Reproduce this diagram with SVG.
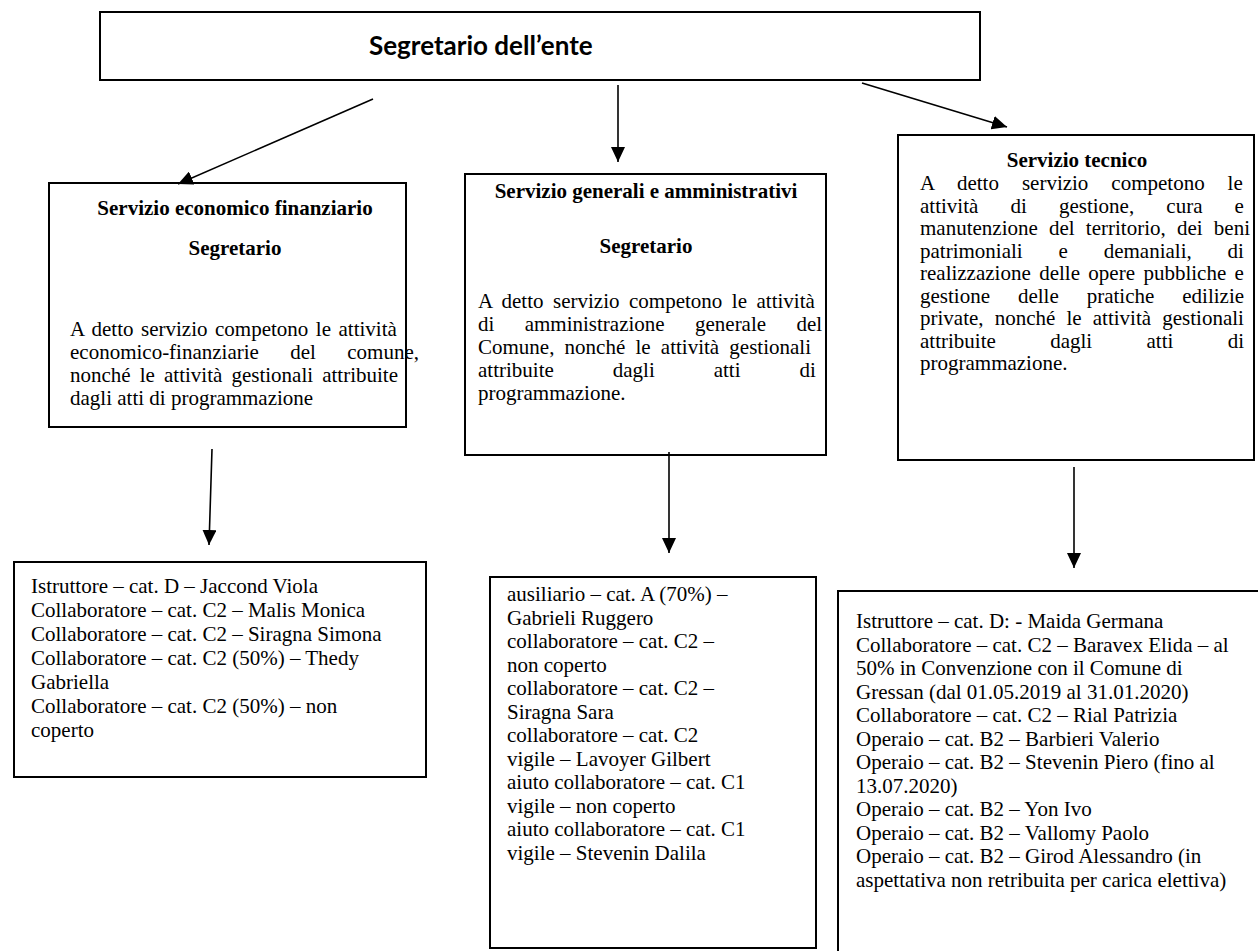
<svg xmlns="http://www.w3.org/2000/svg" width="1258" height="951" viewBox="0 0 1258 951">
<style>
.box{fill:#fff;stroke:#000;stroke-width:2}
.t{font-family:"Liberation Serif","Times New Roman",serif;font-size:21px;fill:#000}
.b{font-family:"Liberation Serif","Times New Roman",serif;font-size:21px;font-weight:bold;fill:#000;text-anchor:middle}
.title{font-family:Lato,"Liberation Sans",sans-serif;font-size:26px;font-weight:bold;fill:#000}
.c{stroke:#000;stroke-width:1.6;fill:none;marker-end:url(#ah)}
</style>
<defs>
<marker id="ah" markerUnits="userSpaceOnUse" markerWidth="16" markerHeight="14" refX="15" refY="7" orient="auto">
<path d="M0,0 L15,7 L0,14 z" fill="#000"/>
</marker>
</defs>
<rect width="1258" height="951" fill="#fff"/>

<g id="top">
<rect class="box" x="100" y="12" width="880" height="68"/>
<text class="title" x="369" y="55">Segretario dell’ente</text>
</g>

<g id="svc-econ">
<rect class="box" x="49" y="183" width="357" height="244"/>
<text class="b" x="235" y="215">Servizio economico finanziario</text>
<text class="b" x="235" y="255">Segretario</text>
<text class="t" x="70" y="336" word-spacing="2.26">A detto servizio competono le attività</text>
<text class="t" x="70" y="359" word-spacing="26.1">economico-finanziarie del comune,</text>
<text class="t" x="70" y="382" word-spacing="3.85">nonché le attività gestionali attribuite</text>
<text class="t" x="70" y="405">dagli atti di programmazione</text>
</g>

<g id="svc-gen">
<rect class="box" x="465" y="174" width="361" height="281"/>
<text class="b" x="646" y="198">Servizio generali e amministrativi</text>
<text class="b" x="646" y="253">Segretario</text>
<text class="t" x="478" y="308" word-spacing="4.26">A detto servizio competono le attività</text>
<text class="t" x="478" y="331" word-spacing="25.1">di amministrazione generale del</text>
<text class="t" x="478" y="354" word-spacing="4.96">Comune, nonché le attività gestionali</text>
<text class="t" x="478" y="377" word-spacing="53.7">attribuite dagli atti di</text>
<text class="t" x="478" y="400">programmazione.</text>
</g>

<g id="svc-tec">
<rect class="box" x="898" y="135" width="356" height="325"/>
<text class="b" x="1077" y="167">Servizio tecnico</text>
<text class="t" x="920" y="190" word-spacing="17.7">A detto servizio competono le</text>
<text class="t" x="920" y="212.5" word-spacing="26.9">attività di gestione, cura e</text>
<text class="t" x="920" y="235" word-spacing="5.96">manutenzione del territorio, dei beni</text>
<text class="t" x="920" y="257.5" word-spacing="30.6">patrimoniali e demaniali, di</text>
<text class="t" x="920" y="280" word-spacing="3.15">realizzazione delle opere pubbliche e</text>
<text class="t" x="920" y="302.5" word-spacing="22.7">gestione delle pratiche edilizie</text>
<text class="t" x="920" y="325" word-spacing="5.9">private, nonché le attività gestionali</text>
<text class="t" x="920" y="347.5" word-spacing="49.1">attribuite dagli atti di</text>
<text class="t" x="920" y="370">programmazione.</text>
</g>

<g id="staff-econ">
<rect class="box" x="14" y="562" width="412" height="215"/>
<text class="t">
<tspan x="31" y="593">Istruttore – cat. D – Jaccond Viola</tspan>
<tspan x="31" y="617">Collaboratore – cat. C2 – Malis Monica</tspan>
<tspan x="31" y="641">Collaboratore – cat. C2 – Siragna Simona</tspan>
<tspan x="31" y="665">Collaboratore – cat. C2 (50%) – Thedy</tspan>
<tspan x="31" y="689">Gabriella</tspan>
<tspan x="31" y="713">Collaboratore – cat. C2 (50%) – non</tspan>
<tspan x="31" y="737">coperto</tspan>
</text>
</g>

<g id="staff-gen">
<rect class="box" x="490" y="577" width="326" height="371"/>
<text class="t">
<tspan x="507" y="601">ausiliario – cat. A (70%) –</tspan>
<tspan x="507" y="624.5">Gabrieli Ruggero</tspan>
<tspan x="507" y="648">collaboratore – cat. C2 –</tspan>
<tspan x="507" y="671.5">non coperto</tspan>
<tspan x="507" y="695">collaboratore – cat. C2 –</tspan>
<tspan x="507" y="718.5">Siragna Sara</tspan>
<tspan x="507" y="742">collaboratore – cat. C2</tspan>
<tspan x="507" y="765.5">vigile – Lavoyer Gilbert</tspan>
<tspan x="507" y="789">aiuto collaboratore – cat. C1</tspan>
<tspan x="507" y="812.5">vigile – non coperto</tspan>
<tspan x="507" y="836">aiuto collaboratore – cat. C1</tspan>
<tspan x="507" y="859.5">vigile – Stevenin Dalila</tspan>
</text>
</g>

<g id="staff-tec">
<rect class="box" x="838" y="591" width="440" height="380"/>
<text class="t">
<tspan x="856" y="628">Istruttore – cat. D: - Maida Germana</tspan>
<tspan x="856" y="651.5">Collaboratore – cat. C2 – Baravex Elida – al</tspan>
<tspan x="856" y="675">50% in Convenzione con il Comune di</tspan>
<tspan x="856" y="698.5">Gressan (dal 01.05.2019 al 31.01.2020)</tspan>
<tspan x="856" y="722">Collaboratore – cat. C2 – Rial Patrizia</tspan>
<tspan x="856" y="745.5">Operaio – cat. B2 – Barbieri Valerio</tspan>
<tspan x="856" y="769">Operaio – cat. B2 – Stevenin Piero (fino al</tspan>
<tspan x="856" y="792.5">13.07.2020)</tspan>
<tspan x="856" y="816">Operaio – cat. B2 – Yon Ivo</tspan>
<tspan x="856" y="839.5">Operaio – cat. B2 – Vallomy Paolo</tspan>
<tspan x="856" y="863">Operaio – cat. B2 – Girod Alessandro (in</tspan>
<tspan x="856" y="886.5">aspettativa non retribuita per carica elettiva)</tspan>
</text>
</g>

<g id="connectors">
<line class="c" x1="373" y1="99" x2="178" y2="184"/>
<line class="c" x1="618" y1="85" x2="618" y2="162"/>
<line class="c" x1="862" y1="83" x2="1007" y2="127"/>
<line class="c" x1="212" y1="449" x2="209" y2="545"/>
<line class="c" x1="669" y1="452" x2="669" y2="553"/>
<line class="c" x1="1074" y1="467" x2="1074" y2="568"/>
</g>
</svg>
